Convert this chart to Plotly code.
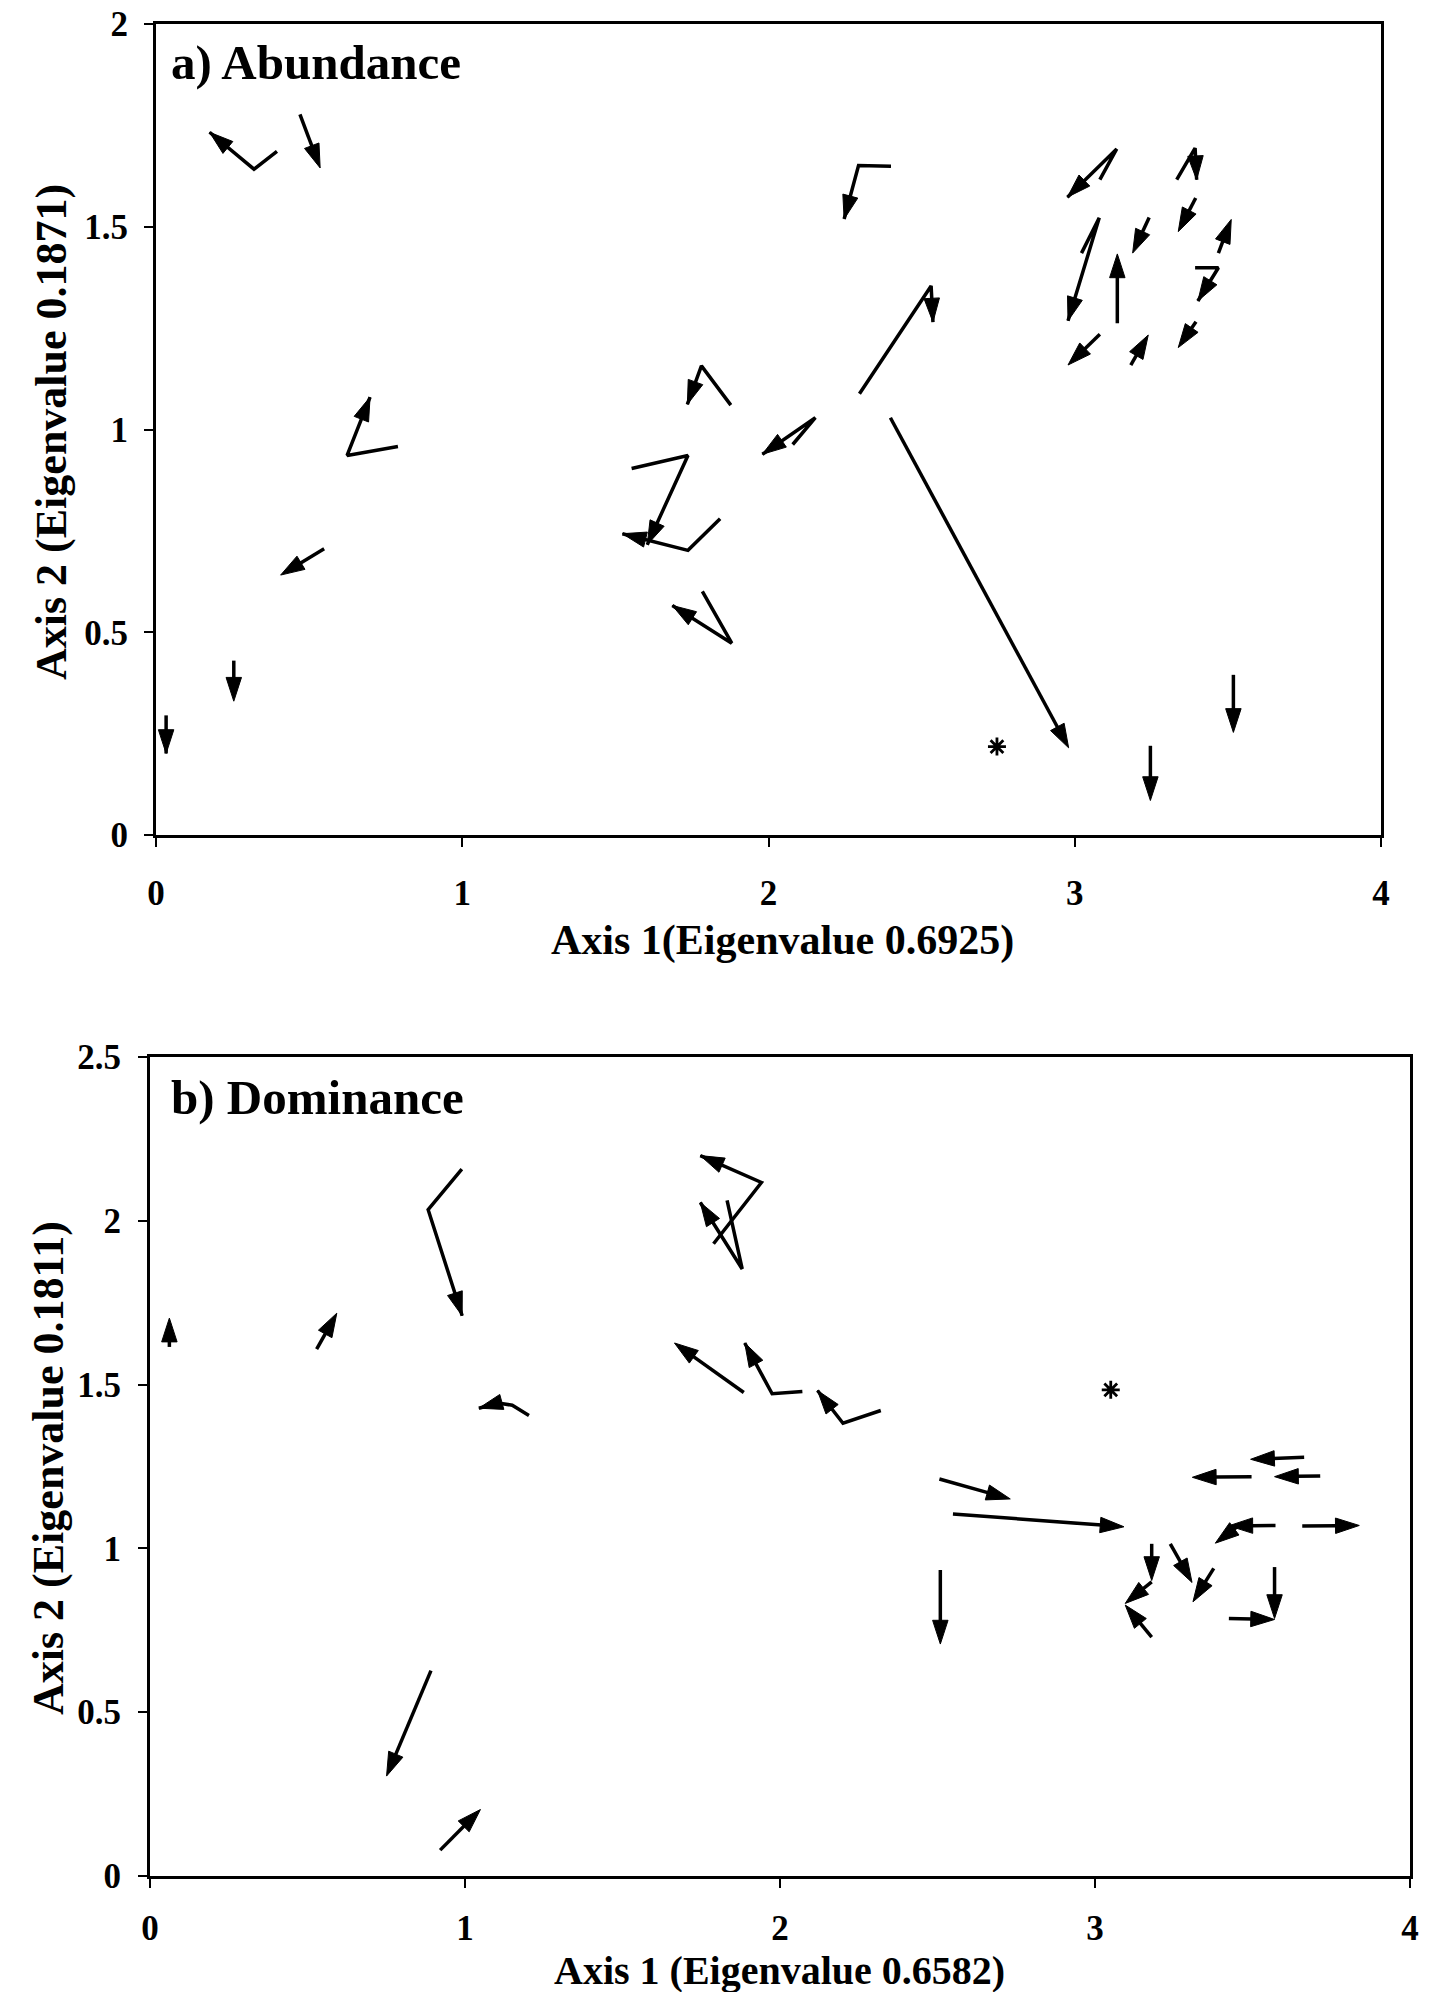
import plotly.graph_objects as go

# ---------------- Panel a) Abundance : trajectories (last point = arrow tip) ----------------
abund_x = [
    [0.395, 0.320, 0.175],
    [0.470, 0.536],
    [2.400, 2.294, 2.247],
    [2.297, 2.531, 2.537],
    [1.877, 1.781, 1.735],
    [2.079, 2.153, 1.980],
    [1.553, 1.737, 1.604],
    [1.842, 1.737, 1.523],
    [1.784, 1.880, 1.686],
    [2.398, 2.980],
    [3.082, 3.137, 2.976],
    [3.022, 3.080, 2.978],
    [3.139, 3.139],
    [3.243, 3.189],
    [3.333, 3.393, 3.398],
    [3.395, 3.338],
    [3.469, 3.511],
    [3.393, 3.469, 3.402],
    [3.082, 2.978],
    [3.183, 3.240],
    [3.396, 3.338],
    [0.790, 0.624, 0.699],
    [0.549, 0.407],
    [0.254, 0.254],
    [0.033, 0.033],
    [3.247, 3.247],
    [3.518, 3.518],
]
abund_y = [
    [1.686, 1.642, 1.733],
    [1.777, 1.645],
    [1.649, 1.651, 1.519],
    [1.088, 1.354, 1.265],
    [1.060, 1.157, 1.062],
    [0.963, 1.029, 0.939],
    [0.904, 0.936, 0.716],
    [0.780, 0.702, 0.743],
    [0.601, 0.473, 0.566],
    [1.029, 0.215],
    [1.616, 1.692, 1.573],
    [1.435, 1.522, 1.268],
    [1.262, 1.433],
    [1.523, 1.435],
    [1.616, 1.694, 1.616],
    [1.571, 1.488],
    [1.435, 1.518],
    [1.399, 1.399, 1.317],
    [1.235, 1.159],
    [1.159, 1.233],
    [1.266, 1.202],
    [0.958, 0.936, 1.080],
    [0.706, 0.641],
    [0.430, 0.330],
    [0.295, 0.201],
    [0.220, 0.085],
    [0.395, 0.253],
]
abund_star_x = [2.746]
abund_star_y = [0.218]

# ---------------- Panel b) Dominance ----------------
dom_x = [
    [0.0615, 0.0615],
    [0.529, 0.593],
    [0.990, 0.883, 0.991],
    [1.203, 1.150, 1.105, 1.044],
    [1.789, 1.941, 1.747],
    [1.832, 1.880, 1.747],
    [1.885, 1.665],
    [2.071, 1.975, 1.888],
    [2.320, 2.200, 2.119],
    [2.506, 2.731],
    [2.549, 3.092],
    [2.509, 2.509],
    [3.664, 3.494],
    [3.497, 3.309],
    [3.715, 3.570],
    [3.573, 3.425],
    [3.451, 3.382],
    [3.658, 3.839],
    [3.180, 3.180],
    [3.180, 3.096],
    [3.180, 3.096],
    [3.239, 3.308],
    [3.377, 3.311],
    [3.570, 3.570],
    [3.425, 3.570],
    [0.892, 0.751],
    [0.921, 1.049],
]
dom_y = [
    [1.615, 1.703],
    [1.608, 1.718],
    [2.158, 2.034, 1.710],
    [1.406, 1.437, 1.444, 1.428],
    [1.930, 2.117, 2.199],
    [2.062, 1.853, 2.056],
    [1.476, 1.627],
    [1.479, 1.472, 1.627],
    [1.421, 1.382, 1.482],
    [1.212, 1.151],
    [1.105, 1.066],
    [0.934, 0.708],
    [1.278, 1.272],
    [1.219, 1.217],
    [1.221, 1.219],
    [1.070, 1.069],
    [1.066, 1.016],
    [1.068, 1.070],
    [1.014, 0.902],
    [0.898, 0.832],
    [0.729, 0.827],
    [1.014, 0.896],
    [0.939, 0.837],
    [0.943, 0.786],
    [0.786, 0.783],
    [0.627, 0.305],
    [0.079, 0.203],
]
dom_star_x = [3.050]
dom_star_y = [1.484]

x_ticks = [0, 1, 2, 3, 4]
ya_ticks = [0, 0.5, 1, 1.5, 2]
yb_ticks = [0, 0.5, 1, 1.5, 2, 2.5]

W, H = 1431, 1992
FONT = "Liberation Serif"

fig = go.Figure()


def add_traj(xs, ys, xa, ya):
    for px, py in zip(xs, ys):
        sizes = [0] * (len(px) - 1) + [25]
        fig.add_trace(go.Scatter(
            x=px, y=py, xaxis=xa, yaxis=ya, mode="lines+markers",
            line=dict(color="black", width=3.5),
            marker=dict(symbol="arrow", angleref="previous", size=sizes,
                        color="black", opacity=1,
                        line=dict(width=1, color="black")),
            showlegend=False, hoverinfo="skip"))


add_traj(abund_x, abund_y, "x", "y")
add_traj(dom_x, dom_y, "x2", "y2")

for sx, sy, xa, ya in [(abund_star_x, abund_star_y, "x", "y"), (dom_star_x, dom_star_y, "x2", "y2")]:
    fig.add_trace(go.Scatter(x=sx, y=sy, xaxis=xa, yaxis=ya, mode="markers",
                             marker=dict(symbol="asterisk-open", size=15, color="black",
                                         line=dict(color="black", width=2.8)),
                             showlegend=False, hoverinfo="skip"))

tickfont = dict(family=FONT, size=35, color="black", weight="bold")
common = dict(showline=True, linewidth=3, linecolor="black", mirror=True,
              ticks="outside", ticklen=9, tickwidth=1.5, tickcolor="black",
              showgrid=False, zeroline=False, tickfont=tickfont, automargin=False)

fig.update_layout(
    template="none",
    width=W, height=H, margin=dict(l=0, r=0, t=0, b=0, pad=0),
    paper_bgcolor="white", plot_bgcolor="white",
    xaxis=dict(domain=[156 / W, 1381 / W], range=[0, 4], tickvals=x_ticks,
               ticktext=[str(v) for v in x_ticks], anchor="y",
               ticklabelstandoff=16, **common),
    yaxis=dict(domain=[1 - 835 / H, 1 - 24 / H], range=[0, 2], tickvals=ya_ticks,
               ticktext=["0", "0.5", "1", "1.5", "2"], anchor="x",
               ticklabelstandoff=9, **common),
    xaxis2=dict(domain=[150 / W, 1410 / W], range=[0, 4], tickvals=x_ticks,
                ticktext=[str(v) for v in x_ticks], anchor="y2",
                ticklabelstandoff=10, **common),
    yaxis2=dict(domain=[1 - 1876 / H, 1 - 1057 / H], range=[0, 2.5], tickvals=yb_ticks,
                ticktext=["0", "0.5", "1", "1.5", "2", "2.5"], anchor="x2",
                ticklabelstandoff=10, **common),
)

xtitle_font = dict(family=FONT, size=42, color="black", weight="bold")
xtitle_font_b = dict(family=FONT, size=40, color="black", weight="bold")
ytitle_font = dict(family=FONT, size=44, color="black", weight="bold")
label_font = dict(family=FONT, size=49, color="black", weight="bold")
annots = [
    dict(text="a) Abundance", x=169 / W, y=1 - 63 / H, xanchor="left", yanchor="middle", font=label_font),
    dict(text="b) Dominance", x=169 / W, y=1 - 1097 / H, xanchor="left", yanchor="middle", font=label_font),
    dict(text="Axis 1(Eigenvalue 0.6925)", x=782 / W, y=1 - 940 / H, xanchor="center", yanchor="middle", font=xtitle_font),
    dict(text="Axis 1 (Eigenvalue 0.6582)", x=780 / W, y=-3 / H, xanchor="center", yanchor="bottom", font=xtitle_font_b),
    dict(text="Axis 2 (Eigenvalue 0.1871)", x=51 / W, y=1 - 432 / H, xanchor="center", yanchor="middle", textangle=-90, font=ytitle_font),
    dict(text="Axis 2 (Eigenvalue 0.1811)", x=48 / W, y=1 - 1468 / H, xanchor="center", yanchor="middle", textangle=-90, font=ytitle_font),
]
for a in annots:
    fig.add_annotation(xref="paper", yref="paper", showarrow=False, **a)

fig.write_html("out.html")
